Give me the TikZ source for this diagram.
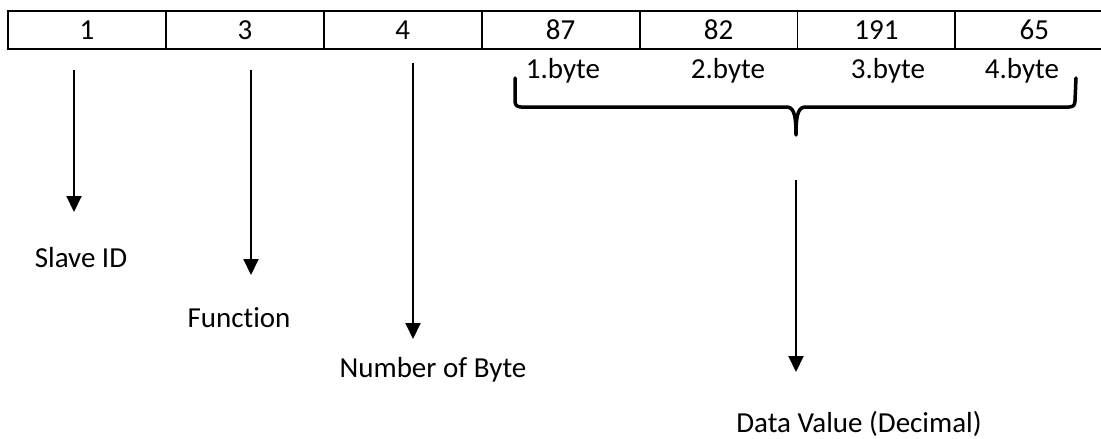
\documentclass[tikz,border=0pt]{standalone}
\usepackage{fontspec}
\setmainfont{Carlito}[Ligatures=NoCommon]
\usetikzlibrary{arrows.meta}
\begin{document}
\begin{tikzpicture}[x=1pt,y=-1pt,
  every node/.style={font=\fontsize{29}{34}\selectfont, inner sep=0pt},
  cell/.style={draw, line width=1.9pt, minimum width=157.9pt, minimum height=38pt},
  lbl/.style={anchor=base},
  pointer/.style={line width=2pt, -{Triangle[width=15pt,length=16pt]}},
  brace/.style={line width=3.5pt, line cap=round, line join=round}]
\clip (0,0) rectangle (1101,439);

% frame cells
\node[cell] (c1) at (86.95,30)  {1};
\node[cell] (c2) at (244.85,30) {3};
\node[cell] (c3) at (402.75,30) {4};
\node[cell] (c4) at (560.65,30) {87};
\node[cell] (c5) at (718.55,30) {82};
\node[cell] (c6) at (876.45,30) {191};
\node[cell] (c7) at (1034.35,30) {65};

% byte numbering of the data field
\node[lbl] (b1) at (563,78)  {1.byte};
\node[lbl] (b2) at (728,78)  {2.byte};
\node[lbl] (b3) at (888,78)  {3.byte};
\node[lbl] (b4) at (1022,78) {4.byte};

% brace grouping the four data bytes
\draw[brace] (515,78) -- (515,101) .. controls (515,105) and (517,107) .. (521,107)
  -- (786,107) .. controls (793,107) and (796,112) .. (796,135)
  .. controls (796,112) and (799,107) .. (806,107)
  -- (1069,107) .. controls (1073,107) and (1075,105) .. (1075,101) -- (1076,78);

% field names
\node[lbl] (slave) at (81,267)  {Slave ID};
\node[lbl] (func)  at (239,327) {Function};
\node[lbl] (nbyte) at (433,377) {Number of Byte};
\node[lbl] (data)  at (859,432) {Data Value (Decimal)};

% pointer ends
\coordinate (s1) at (74,70);   \coordinate (t1) at (74,212);
\coordinate (s2) at (251,70);  \coordinate (t2) at (251,275);
\coordinate (s3) at (413,63);  \coordinate (t3) at (413,339);
\coordinate (s4) at (796,180); \coordinate (t4) at (796,372);

\draw[pointer] (s1) -- (t1);
\draw[pointer] (s2) -- (t2);
\draw[pointer] (s3) -- (t3);
\draw[pointer] (s4) -- (t4);
\end{tikzpicture}
\end{document}
